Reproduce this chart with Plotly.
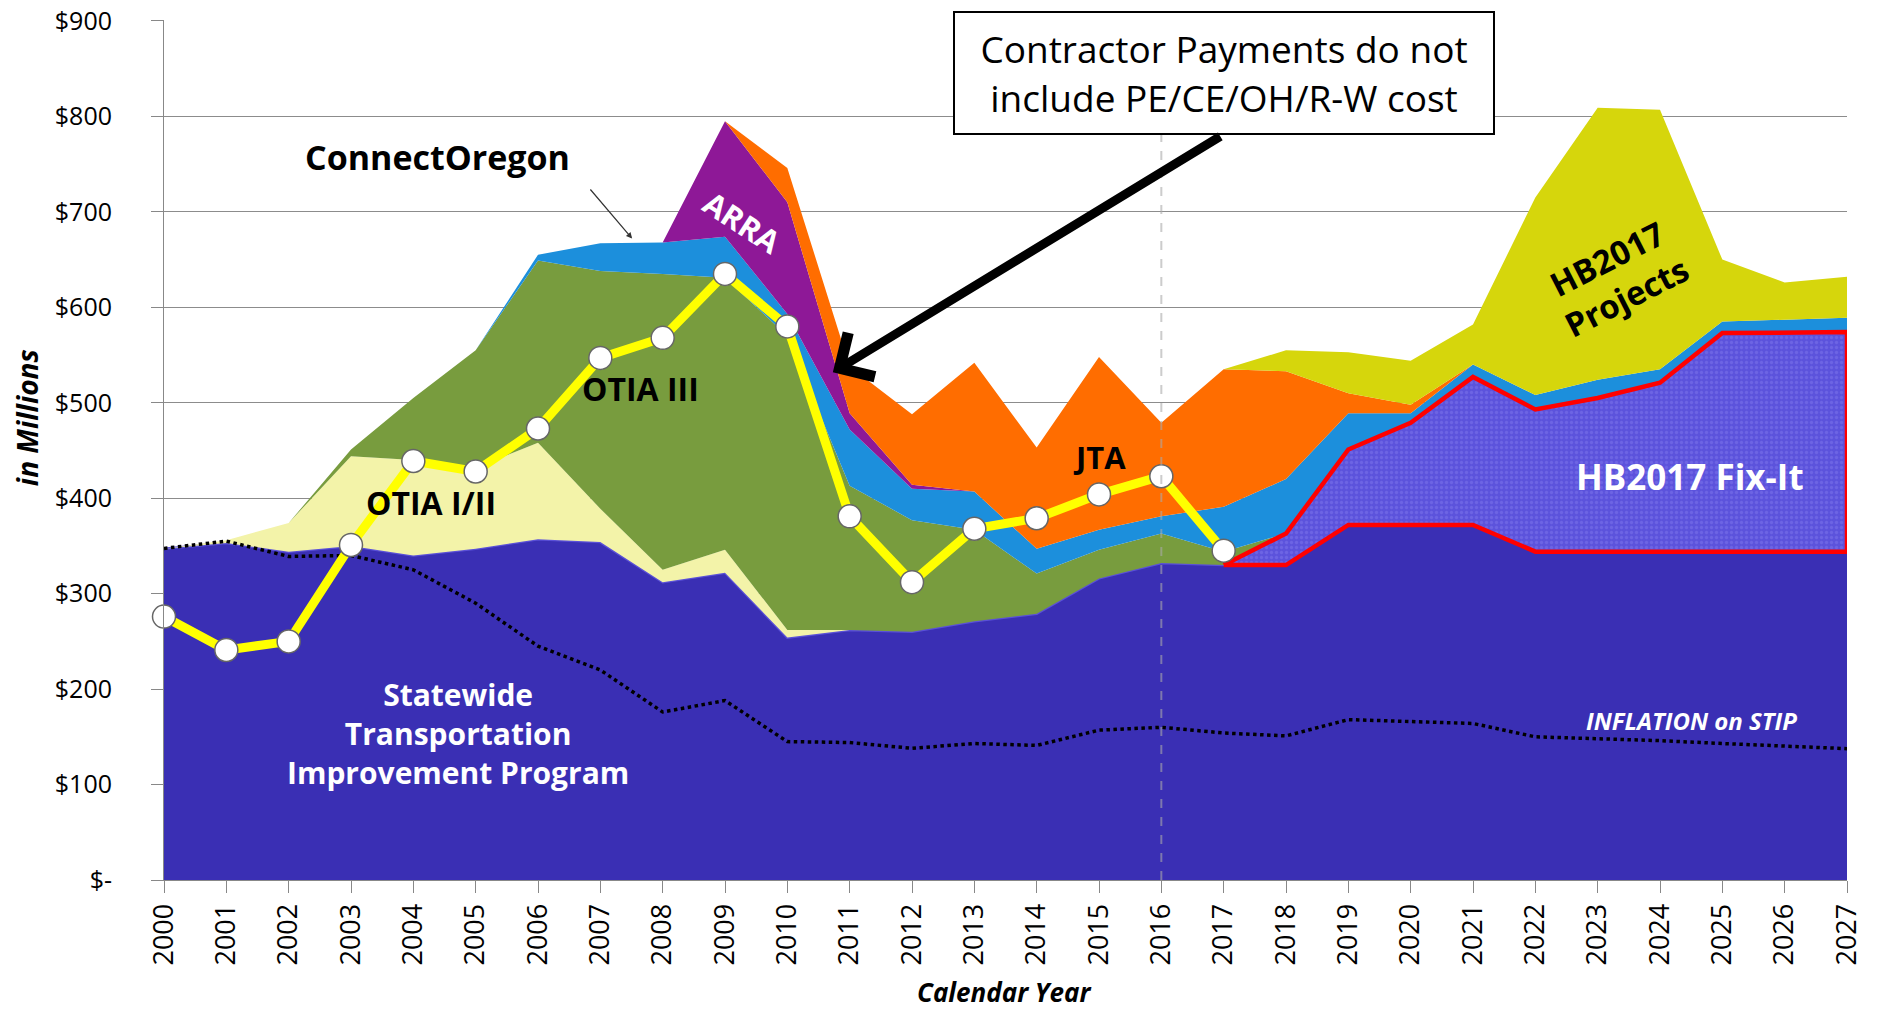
import plotly.graph_objects as go

years = list(range(2000, 2028))

# stacked layers, $ millions per calendar year (bottom to top)
stip = [347, 353, 344, 350, 340, 347, 357, 354, 312, 322, 254, 262, 260, 271,
        279, 316, 332, 330, 330, 372, 372, 372, 344, 344, 344, 344, 344, 344]
hb2017_fixit = [0, 0, 0, 0, 0, 0, 0, 0, 0, 0, 0, 0, 0, 0,
                0, 0, 0, 0, 33, 79, 107, 155, 149, 161, 177, 229, 229, 230]
otia_1_2 = [0, 3, 30, 94, 100, 85, 101, 35, 13, 24, 8, 0, 0, 0,
            0, 0, 0, 0, 0, 0, 0, 0, 0, 0, 0, 0, 0, 0]
otia_3 = [0, 0, 0, 7, 65, 123, 191, 249, 310, 285, 308, 151, 117, 96,
          42, 30, 31, 14, 0, 0, 0, 0, 0, 0, 0, 0, 0, 0]
connect_oregon = [0, 0, 0, 0, 0, 0, 6, 29, 33, 43, 23, 59, 33, 40,
                  26, 21, 18, 47, 57, 38, 10, 13, 15, 19, 14, 12, 14, 15]
arra = [0, 0, 0, 0, 0, 0, 0, 0, 0, 121, 117, 17, 4, 0,
        0, 0, 0, 0, 0, 0, 0, 0, 0, 0, 0, 0, 0, 0]
jta = [0, 0, 0, 0, 0, 0, 0, 0, 0, 0, 36, 49, 74, 135,
       106, 181, 98, 144, 113, 21, 9, 0, 0, 0, 0, 0, 0, 0]
hb2017_projects = [0, 0, 0, 0, 0, 0, 0, 0, 0, 0, 0, 0, 0, 0,
                   0, 0, 0, 0, 22, 43, 46, 42, 207, 285, 272, 65, 39, 43]

# contractor payments (yellow line), 2000-2017
payment_years = list(range(2000, 2018))
contractor_payments = [276, 241, 250, 351, 439, 428, 473, 547, 568, 635,
                       580, 381, 312, 368, 379, 404, 423, 345]

# inflation on STIP (dotted line)
inflation = [347.4, 355, 339, 340, 325, 290, 245, 220, 176, 188, 145, 144, 138, 143,
             141, 157, 160, 154, 151, 168, 166, 164, 150, 148, 146, 143, 140, 137.6]

y_ticks = [0, 100, 200, 300, 400, 500, 600, 700, 800, 900]
y_tick_text = ["$-", "$100", "$200", "$300", "$400", "$500", "$600", "$700", "$800", "$900"]

layers = [
    ("Statewide Transportation Improvement Program", stip, "#3a2fb4"),
    ("HB2017 Fix-It", hb2017_fixit, "#5c53dc"),
    ("OTIA I/II", otia_1_2, "#f3f3a9"),
    ("OTIA III", otia_3, "#789c3e"),
    ("ConnectOregon", connect_oregon, "#1c8fdc"),
    ("ARRA", arra, "#8e1897"),
    ("JTA", jta, "#ff6d00"),
    ("HB2017 Projects", hb2017_projects, "#d6d60c"),
]

fig = go.Figure()
for name, values, color in layers:
    kwargs = {}
    if name == "HB2017 Fix-It":
        kwargs["fillpattern"] = dict(shape=".", bgcolor=color, fgcolor="#7d76ec",
                                     size=5, solidity=0.35)
    line = dict(width=0, color=color)
    if name.startswith("Statewide"):
        line = dict(width=2.5, color="#5a50d8")
    fig.add_trace(go.Scatter(
        x=years, y=values, name=name, mode="lines", stackgroup="funds",
        fillcolor=color, line=line, hoverinfo="x+y+name", **kwargs,
    ))

# red outline round the Fix-It band
fix_top = [s + f for s, f in zip(stip, hb2017_fixit)]
first = 17
outline_x = years[first:] + years[first:][::-1] + [years[first]]
outline_y = fix_top[first:] + stip[first:][::-1] + [fix_top[first]]
fig.add_trace(go.Scatter(
    x=outline_x, y=outline_y, mode="lines", line=dict(color="#ff0000", width=4.5),
    hoverinfo="skip", cliponaxis=False,
))

fig.add_trace(go.Scatter(
    x=years, y=inflation, name="Inflation on STIP", mode="lines",
    line=dict(color="black", width=3.5, dash="dot"),
))

fig.add_trace(go.Scatter(
    x=payment_years, y=contractor_payments, name="Contractor Payments",
    mode="lines+markers", cliponaxis=False,
    line=dict(color="#ffff00", width=9),
    marker=dict(size=23, color="white", line=dict(color="#666666", width=1.5)),
))

black = dict(family="Open Sans", color="black")
white = dict(family="Open Sans", color="white")
annotations = [
    dict(x=2004.38, y=757, text="<b>ConnectOregon</b>", font=dict(size=34, **black)),
    dict(x=2007.51, y=672, ax=2006.82, ay=725, axref="x", ayref="y", text="",
         showarrow=True, arrowhead=2, arrowsize=1, arrowwidth=1.2, arrowcolor="#333"),
    dict(x=2009.27, y=689, text="<b>ARRA</b>", textangle=33, font=dict(size=31, **white)),
    dict(x=2007.64, y=515, text="<b>OTIA III</b>", font=dict(size=32, **black)),
    dict(x=2004.28, y=395, text="<b>OTIA I/II</b>", font=dict(size=32, **black)),
    dict(x=2015.0, y=443, text="<b>JTA</b>", font=dict(size=31, **black)),
    dict(x=2004.72, y=153, text="<b>Statewide<br>Transportation<br>Improvement Program</b>",
         font=dict(size=30, **white)),
    dict(x=2024.5, y=167, text="<b><i>INFLATION on STIP</i></b>", font=dict(size=24, **white)),
    dict(x=2024.48, y=423, text="<b>HB2017 Fix-It</b>", font=dict(size=35, **white)),
    dict(x=2023.3, y=631, text="<b>HB2017<br>Projects</b>", textangle=-27,
         font=dict(size=33, **black)),
    dict(x=1999.78, y=345, text="$347.4", textangle=-90, font=dict(size=15, **black)),
    dict(x=2027.27, y=160, text="$137.6", textangle=-90, font=dict(size=15, **black)),
    dict(x=2017.0, y=845, text="Contractor Payments do not<br>include PE/CE/OH/R-W cost",
         font=dict(size=37, **black), bgcolor="white", bordercolor="black",
         borderwidth=2, borderpad=10, width=518, height=100),
    dict(x=2010.73, y=532, ax=2016.97, ay=780, axref="x", ayref="y", text="",
         showarrow=True, arrowhead=4, arrowsize=1.1, arrowwidth=9, arrowcolor="black"),
    dict(x=-0.0814, y=0.537, xref="paper", yref="paper", text="<b><i>in Millions</i></b>",
         textangle=-90, xanchor="center", yanchor="middle", font=dict(size=28, **black)),
    dict(x=0.499, y=-0.1305, xref="paper", yref="paper", text="<b><i>Calendar Year</i></b>",
         xanchor="center", yanchor="middle", font=dict(size=26, **black)),
]
for a in annotations:
    a.setdefault("showarrow", False)
    a.setdefault("xref", "x")
    a.setdefault("yref", "y")
fig.update_layout(annotations=annotations)

fig.add_shape(type="line", x0=2016, x1=2016, y0=0, y1=900, xref="x", yref="y",
              layer="above", line=dict(color="rgba(170,170,170,0.6)", width=2, dash="dash"))

fig.update_xaxes(
    range=[2000, 2027], tickmode="array", tickvals=years, ticktext=[str(y) for y in years],
    tickangle=-90, ticks="outside", ticklen=12, tickcolor="#888888", automargin=False,
    showline=True, linecolor="#888888", showgrid=False, zeroline=False,
    tickfont=dict(family="Open Sans", size=27, color="black"),
)
fig.update_yaxes(
    range=[0, 901], tickmode="array", tickvals=y_ticks, ticktext=y_tick_text,
    ticks="outside", ticklen=12, tickcolor="#888888", ticklabelstandoff=34,
    automargin=False, ticklabeloverflow="allow",
    showline=True, linecolor="#888888", showgrid=True, gridcolor="#8c8c8c", gridwidth=1,
    zeroline=False, tickfont=dict(family="Open Sans", size=25, color="black"),
)
# the page body adds an 8px margin, so the figure is sized to fit inside the window
fig.update_layout(
    width=1861, height=1002, autosize=False,
    margin=dict(l=156, r=22, t=12, b=130),
    paper_bgcolor="white", plot_bgcolor="white",
    showlegend=False, hovermode="closest",
)

fig.write_html("out.html")
